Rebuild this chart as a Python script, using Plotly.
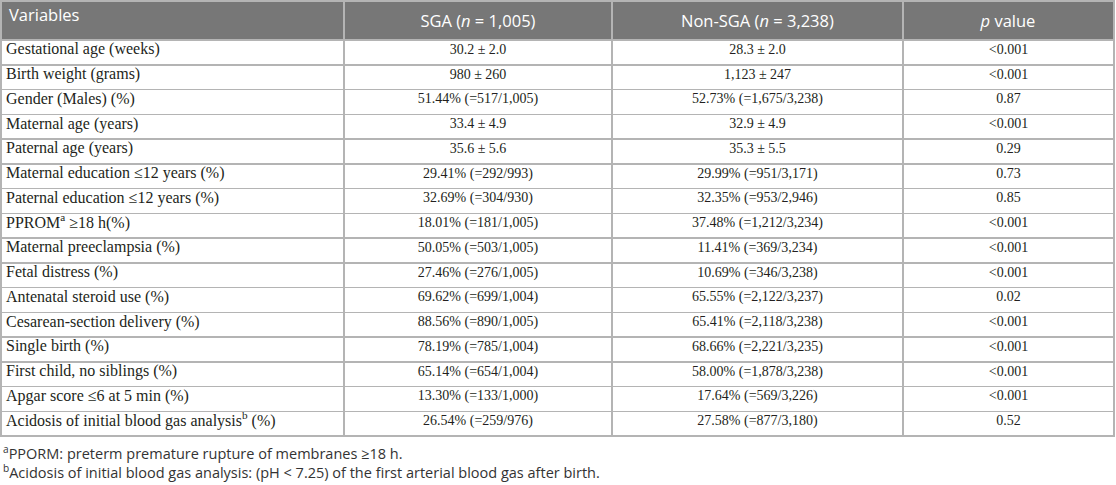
import plotly.graph_objects as go

headers = ["Variables", "SGA (<i>n</i> = 1,005)", "Non-SGA (<i>n</i> = 3,238)", "<i>p</i> value"]

variables = [
    "Gestational age (weeks)",
    "Birth weight (grams)",
    "Gender (Males) (%)",
    "Maternal age (years)",
    "Paternal age (years)",
    "Maternal education ≤12 years (%)",
    "Paternal education ≤12 years (%)",
    "PPROM<sup>a</sup> ≥18 h(%)",
    "Maternal preeclampsia (%)",
    "Fetal distress (%)",
    "Antenatal steroid use (%)",
    "Cesarean-section delivery (%)",
    "Single birth (%)",
    "First child, no siblings (%)",
    "Apgar score ≤6 at 5 min (%)",
    "Acidosis of initial blood gas analysis<sup>b</sup> (%)",
]

sga = [
    "30.2 ± 2.0",
    "980 ± 260",
    "51.44% (=517/1,005)",
    "33.4 ± 4.9",
    "35.6 ± 5.6",
    "29.41% (=292/993)",
    "32.69% (=304/930)",
    "18.01% (=181/1,005)",
    "50.05% (=503/1,005)",
    "27.46% (=276/1,005)",
    "69.62% (=699/1,004)",
    "88.56% (=890/1,005)",
    "78.19% (=785/1,004)",
    "65.14% (=654/1,004)",
    "13.30% (=133/1,000)",
    "26.54% (=259/976)",
]

non_sga = [
    "28.3 ± 2.0",
    "1,123 ± 247",
    "52.73% (=1,675/3,238)",
    "32.9 ± 4.9",
    "35.3 ± 5.5",
    "29.99% (=951/3,171)",
    "32.35% (=953/2,946)",
    "37.48% (=1,212/3,234)",
    "11.41% (=369/3,234)",
    "10.69% (=346/3,238)",
    "65.55% (=2,122/3,237)",
    "65.41% (=2,118/3,238)",
    "68.66% (=2,221/3,235)",
    "58.00% (=1,878/3,238)",
    "17.64% (=569/3,226)",
    "27.58% (=877/3,180)",
]

p_values = [
    "<0.001", "<0.001", "0.87", "<0.001", "0.29", "0.73", "0.85", "<0.001",
    "<0.001", "<0.001", "0.02", "<0.001", "<0.001", "<0.001", "<0.001", "0.52",
]

footnotes = [
    "<sup>a</sup>PPORM: preterm premature rupture of membranes ≥18 h.",
    "<sup>b</sup>Acidosis of initial blood gas analysis: (pH &lt; 7.25) of the first arterial blood gas after birth.",
]

# layout constants
col_w = [343, 268, 291, 211]
header_h = 37
row_h = 24.75
fig_w, fig_h = 1116, 485
m_l, m_r, m_t, m_b = 1, 2, 1, 0
plot_h = fig_h - m_t - m_b
grid = "#b4b4b4"
n = len(variables)
columns = [variables, sga, non_sga, p_values]

# grid + header through a Table trace (body text drawn by a text trace below,
# because Plotly enlarges table rows whose text holds markup such as "<")
fig = go.Figure(
    go.Table(
        columnwidth=col_w,
        header=dict(
            values=headers,
            fill_color="#777777",
            line=dict(color=grid, width=1.5),
            align=["left", "center", "center", "center"],
            font=dict(family="Open Sans", size=16.5, color="white"),
            height=header_h,
        ),
        cells=dict(
            values=[[""] * n for _ in columns],
            fill_color="rgba(0,0,0,0)",
            line=dict(color=grid, width=1.5),
            height=row_h,
        ),
        domain=dict(x=[0, 1], y=[0, 1]),
    )
)

# cell texts positioned on hidden axes: x in table pixels, y in row index
edges = [sum(col_w[:i]) for i in range(len(col_w) + 1)]
xs, ys, texts, sizes, positions = [], [], [], [], []
for ci, col in enumerate(columns):
    for ri, t in enumerate(col):
        if ci == 0:
            xs.append(edges[0] + 5)
            positions.append("middle right")
            sizes.append(16)
        else:
            xs.append((edges[ci] + edges[ci + 1]) / 2)
            positions.append("middle center")
            sizes.append(14)
        ys.append(ri)
        texts.append(t)

fig.add_trace(go.Scatter(
    x=xs, y=ys, text=texts, mode="text", textposition=positions,
    textfont=dict(family="Liberation Serif", size=sizes, color="#231f20"),
    hoverinfo="skip", showlegend=False, cliponaxis=False,
))

y_top = -0.5 - header_h / row_h
y_bottom = y_top + plot_h / row_h
fig.update_xaxes(range=[0, edges[-1]], visible=False, fixedrange=True)
fig.update_yaxes(range=[y_bottom, y_top], visible=False, fixedrange=True)

for i, t in enumerate(footnotes):
    fig.add_annotation(
        text=t, xref="paper", yref="paper", x=0, y=0.068 - i * 0.041,
        xanchor="left", yanchor="middle", showarrow=False,
        font=dict(family="Open Sans", size=14.5, color="#333333"), align="left",
    )

fig.update_layout(
    width=fig_w, height=fig_h,
    margin=dict(l=m_l, r=m_r, t=m_t, b=m_b),
    paper_bgcolor="white", plot_bgcolor="rgba(0,0,0,0)",
)

fig.write_html("out.html", config={"displayModeBar": False},
               post_script="document.body.style.margin='0';")
